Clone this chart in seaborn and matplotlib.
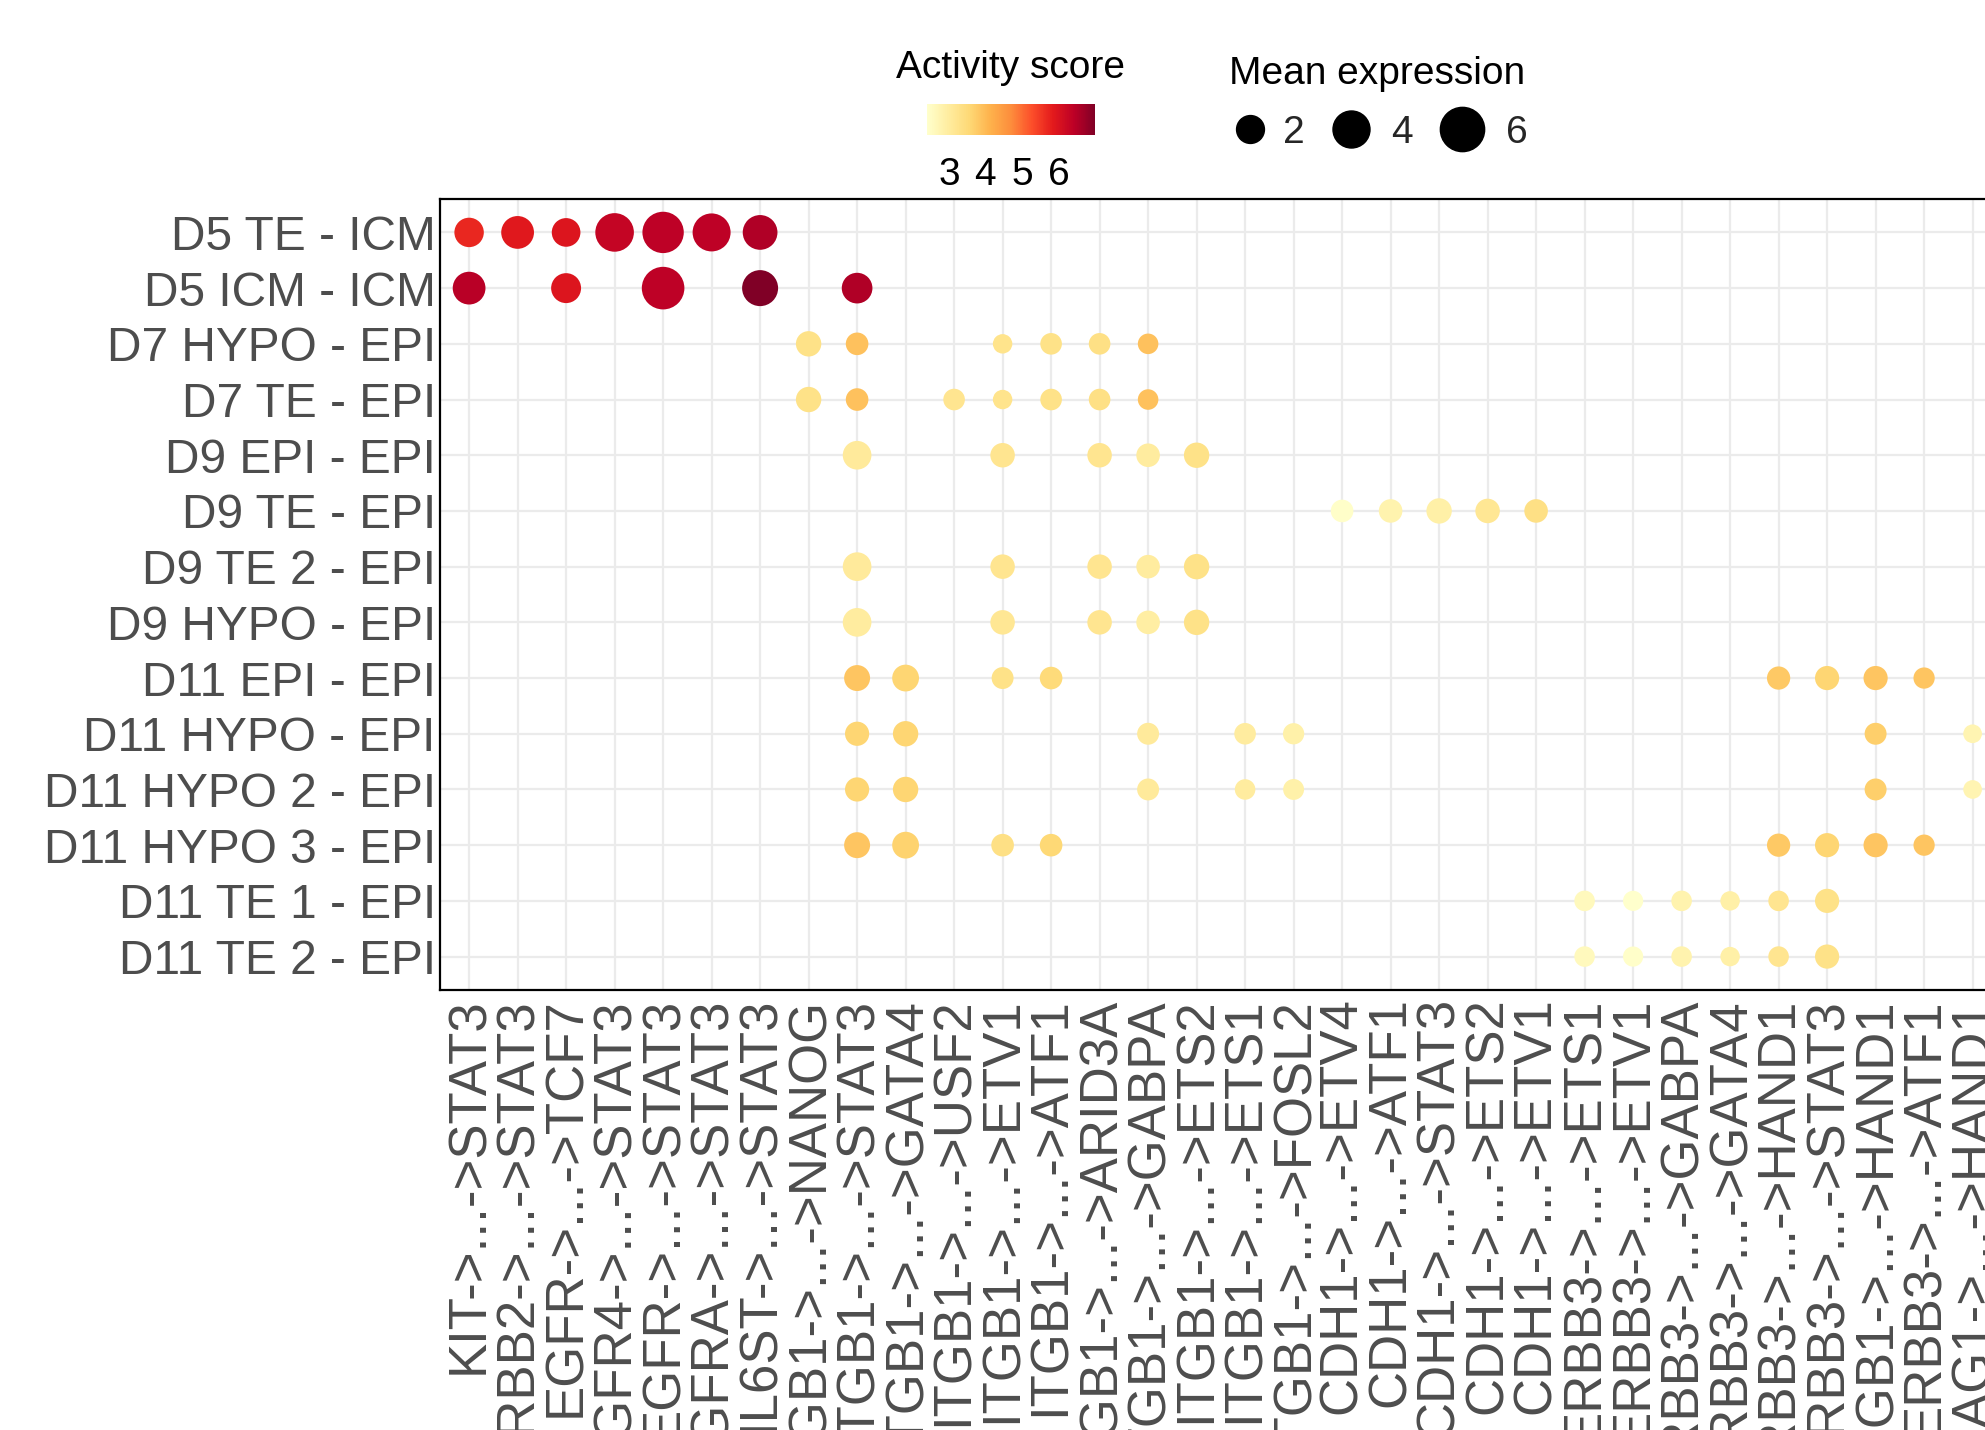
import numpy as np
import pandas as pd
import matplotlib
matplotlib.use("Agg")
import matplotlib.pyplot as plt
from matplotlib.lines import Line2D
import seaborn as sns

rows = ["D5 TE - ICM", "D5 ICM - ICM", "D7 HYPO - EPI", "D7 TE - EPI",
        "D9 EPI - EPI", "D9 TE - EPI", "D9 TE 2 - EPI", "D9 HYPO - EPI",
        "D11 EPI - EPI", "D11 HYPO - EPI", "D11 HYPO 2 - EPI", "D11 HYPO 3 - EPI",
        "D11 TE 1 - EPI", "D11 TE 2 - EPI"]

pathways = ["KIT->...->STAT3", "ERBB2->...->STAT3", "EGFR->...->TCF7", "FGFR4->...->STAT3",
            "EGFR->...->STAT3", "PDGFRA->...->STAT3", "IL6ST->...->STAT3", "ITGB1->...->NANOG",
            "ITGB1->...->STAT3", "ITGB1->...->GATA4", "ITGB1->...->USF2", "ITGB1->...->ETV1",
            "ITGB1->...->ATF1", "ITGB1->...->ARID3A", "ITGB1->...->GABPA", "ITGB1->...->ETS2",
            "ITGB1->...->ETS1", "ITGB1->...->FOSL2", "CDH1->...->ETV4", "CDH1->...->ATF1",
            "CDH1->...->STAT3", "CDH1->...->ETS2", "CDH1->...->ETV1", "ERBB3->...->ETS1",
            "ERBB3->...->ETV1", "ERBB3->...->GABPA", "ERBB3->...->GATA4", "ERBB3->...->HAND1",
            "ERBB3->...->STAT3", "ITGB1->...->HAND1", "ERBB3->...->ATF1", "DAG1->...->HAND1"]

# one entry per dot: row index, pathway index, activity score, mean expression
dot_row = [0, 0, 0, 0, 0, 0, 0,
           1, 1, 1, 1, 1,
           2, 2, 2, 2, 2, 2,
           3, 3, 3, 3, 3, 3, 3,
           4, 4, 4, 4, 4,
           5, 5, 5, 5, 5,
           6, 6, 6, 6, 6,
           7, 7, 7, 7, 7,
           8, 8, 8, 8, 8, 8, 8, 8,
           9, 9, 9, 9, 9, 9, 9,
           10, 10, 10, 10, 10, 10, 10,
           11, 11, 11, 11, 11, 11, 11, 11,
           12, 12, 12, 12, 12, 12,
           13, 13, 13, 13, 13, 13]
dot_col = [0, 1, 2, 3, 4, 5, 6,
           0, 2, 4, 6, 8,
           7, 8, 11, 12, 13, 14,
           7, 8, 10, 11, 12, 13, 14,
           8, 11, 13, 14, 15,
           18, 19, 20, 21, 22,
           8, 11, 13, 14, 15,
           8, 11, 13, 14, 15,
           8, 9, 11, 12, 27, 28, 29, 30,
           8, 9, 14, 16, 17, 29, 31,
           8, 9, 14, 16, 17, 29, 31,
           8, 9, 11, 12, 27, 28, 29, 30,
           23, 24, 25, 26, 27, 28,
           23, 24, 25, 26, 27, 28]
activity = [5.7, 5.9, 5.95, 6.3, 6.4, 6.4, 6.55,
            6.45, 5.95, 6.4, 7.0, 6.55,
            3.3, 3.9, 3.25, 3.3, 3.35, 3.9,
            3.3, 3.9, 3.2, 3.25, 3.3, 3.35, 3.9,
            3.05, 3.2, 3.2, 3.0, 3.3,
            2.45, 2.8, 2.9, 3.15, 3.35,
            3.05, 3.2, 3.2, 3.0, 3.3,
            3.0, 3.15, 3.2, 2.95, 3.3,
            3.85, 3.6, 3.3, 3.5, 3.8, 3.6, 3.85, 3.85,
            3.6, 3.6, 3.05, 3.0, 2.85, 3.7, 2.75,
            3.6, 3.6, 3.05, 3.0, 2.85, 3.7, 2.75,
            3.85, 3.65, 3.35, 3.55, 3.8, 3.6, 3.85, 3.85,
            2.6, 2.4, 2.8, 2.9, 3.2, 3.3,
            2.6, 2.45, 2.8, 2.9, 3.2, 3.3]
expression = [2.3, 3.0, 2.15, 4.4, 5.15, 4.25, 3.45,
              3.0, 2.4, 5.5, 3.75, 2.55,
              1.55, 1.1, 0.65, 0.95, 0.95, 0.8,
              1.55, 1.1, 0.95, 0.65, 0.95, 0.95, 0.8,
              2.15, 1.4, 1.4, 1.25, 1.55,
              1.1, 1.25, 1.55, 1.4, 1.25,
              2.15, 1.4, 1.4, 1.25, 1.55,
              2.15, 1.4, 1.4, 1.25, 1.55,
              1.65, 1.8, 1.0, 1.1, 1.2, 1.35, 1.35, 0.9,
              1.35, 1.55, 1.0, 0.95, 0.9, 1.0, 0.55,
              1.35, 1.55, 1.0, 0.8, 0.85, 1.0, 0.55,
              1.65, 1.8, 1.1, 1.1, 1.2, 1.35, 1.35, 0.9,
              0.8, 0.75, 0.8, 0.65, 0.8, 1.35,
              0.8, 0.75, 0.8, 0.65, 0.8, 1.35]

score_ticks = [3, 4, 5, 6]
size_ticks = [2, 4, 6]

# ---------------------------------------------------------------
df = pd.DataFrame({
    "source": pd.Categorical([rows[i] for i in dot_row], categories=rows, ordered=True),
    "pathway": pd.Categorical([pathways[j] for j in dot_col], categories=pathways, ordered=True),
    "activity": activity,
    "expression": expression,
})

sns.set_style("white")
plt.rcParams["font.family"] = ["Liberation Sans", "DejaVu Sans"]

W, H, DPI = 1985, 1430, 100
fig = plt.figure(figsize=(W / DPI, H / DPI), dpi=DPI)

ax_left = 440 / W
ax_bottom = 1 - 990 / H
ax_height = (990 - 199) / H
ax_width = 32.2 * 48.5 / W
ax = fig.add_axes([ax_left, ax_bottom, ax_width, ax_height])

hue_norm = (2.4, 7.0)
size_norm = (0.0, 8.0)
s_min, s_per = 96.0, 153.5
sizes = (s_min, s_min + s_per * size_norm[1])

sns.scatterplot(data=df, x="pathway", y="source", hue="activity", size="expression",
                palette="YlOrRd", hue_norm=hue_norm, sizes=sizes, size_norm=size_norm,
                linewidth=0, legend=False, ax=ax, zorder=3)

ax.set_xlim(-0.6, len(pathways) - 0.4)
ax.set_ylim(len(rows) - 0.4, -0.6)
ax.set_xlabel("")
ax.set_ylabel("")
ax.grid(True, color="#ebebeb", linewidth=1.6)
ax.set_axisbelow(True)
for sp in ax.spines.values():
    sp.set_visible(True)
    sp.set_color("black")
    sp.set_linewidth(1.6)
ax.tick_params(axis="both", length=0, labelcolor="#4d4d4d")
ax.tick_params(axis="y", pad=3, labelsize=34.5)
ax.tick_params(axis="x", pad=5, labelsize=38)
plt.setp(ax.get_xticklabels(), rotation=90, ha="center", va="top")

# ---- colour legend ----
cax = fig.add_axes([927 / W, 1 - 135 / H, (1095 - 927) / W, 31 / H])
sm = plt.cm.ScalarMappable(cmap="YlOrRd", norm=plt.Normalize(*hue_norm))
cb = fig.colorbar(sm, cax=cax, orientation="horizontal", ticks=score_ticks)
cb.outline.set_visible(False)
cax.tick_params(axis="x", direction="in", color="white", length=6, width=1,
                top=True, bottom=True, labelsize=28, labelcolor="black", pad=16)
fig.text(1010 / W, 1 - 68 / H, "Activity score", ha="center", va="center",
         fontsize=28, color="black")

# ---- size legend (one key per entry, ggplot-like key widths) ----
key_centres = [1250, 1351, 1462]
key_lengths = [1.02, 1.35, 1.54]
for v, xc, hl in zip(size_ticks, key_centres, key_lengths):
    h = Line2D([], [], marker="o", linestyle="none", color="black",
               markersize=np.sqrt(s_min + s_per * v))
    left = xc - hl * 28 * DPI / 72 / 2
    fig.legend([h], [str(v)], frameon=False, loc="center left",
               bbox_to_anchor=(left / W, 1 - 133 / H), fontsize=28,
               handletextpad=0.35, handlelength=hl, borderaxespad=0, borderpad=0)
fig.text(1377 / W, 1 - 74 / H, "Mean expression", ha="center", va="center",
         fontsize=28, color="black")

fig.savefig("out.png", dpi=DPI)
